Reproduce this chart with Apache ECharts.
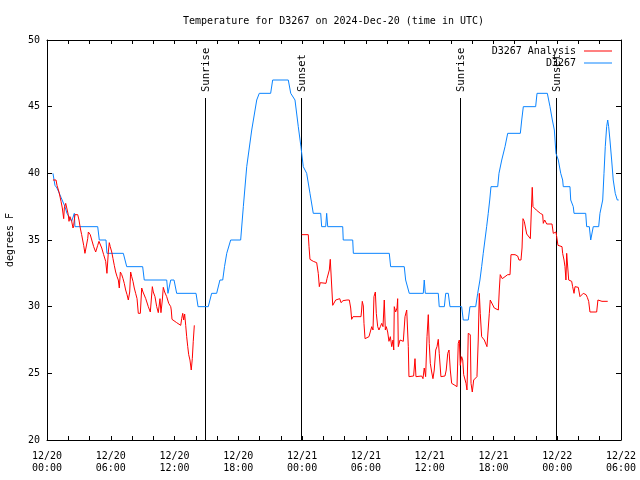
<!DOCTYPE html>
<html>
<head>
<meta charset="utf-8">
<script src="https://cdn.jsdelivr.net/npm/echarts@6/dist/echarts.min.js"></script>
<style>html,body{margin:0;padding:0;background:#fff;}#c{width:640px;height:480px;}</style>
</head>
<body>
<div id="c"></div>
<script>
// Hours since 2024-12-20 00:00 UTC
const obsHours = [0.56,0.75,0.94,1.32,1.69,1.88,2.32,2.50,2.57,2.63,4.77,4.92,5.55,5.64,7.18,7.50,9.00,9.15,11.26,11.38,11.64,11.95,12.20,14.02,14.21,15.17,15.49,15.96,16.27,16.53,16.70,16.91,17.28,18.22,18.47,18.79,19.26,19.73,19.97,21.04,21.23,22.70,22.93,23.33,23.64,23.89,24.11,24.43,24.74,25.05,25.75,25.84,26.22,26.31,26.41,27.82,27.87,28.76,28.82,32.20,32.33,33.61,33.74,34.08,35.40,35.49,35.59,36.81,36.90,37.38,37.51,37.75,37.91,39.01,39.16,39.63,39.79,40.33,40.52,40.73,40.89,41.04,41.20,41.36,41.51,41.65,41.77,42.40,42.52,42.78,43.09,43.34,44.53,44.66,44.81,45.97,46.10,47.07,47.32,47.54,47.73,47.88,48.10,48.33,48.51,48.57,49.20,49.27,49.51,49.58,50.68,50.77,51.02,51.15,51.33,51.39,51.90,52.02,52.28,52.40,52.52,52.65,52.75,52.84,52.96,53.12,53.27,53.46,53.65,53.78];
const obsTemps = [40.0,39.1,38.9,38.2,37.5,37.0,36.4,36.4,37.0,36.0,36.0,35.0,35.0,34.0,34.0,33.0,33.0,32.0,32.0,31.0,32.0,32.0,31.0,31.0,30.0,30.0,31.0,31.0,32.0,32.0,33.0,34.0,35.0,35.0,37.5,40.5,43.25,45.5,46.0,46.0,47.0,47.0,46.0,45.5,43.5,42.0,40.5,40.0,38.5,37.0,37.0,36.0,36.0,37.0,36.0,36.0,35.0,35.0,34.0,34.0,33.0,33.0,32.0,31.0,31.0,32.0,31.0,31.0,30.0,30.0,31.0,31.0,30.0,30.0,29.0,29.0,30.0,30.0,31.0,32.0,33.0,34.0,35.0,36.0,37.0,38.0,39.0,39.0,40.0,41.0,42.0,43.0,43.0,44.0,45.0,45.0,46.0,46.0,45.0,44.0,43.25,41.5,41.0,40.0,39.5,39.0,39.0,38.0,37.5,37.0,37.0,36.0,36.0,35.0,35.0,36.0,36.0,37.0,38.0,40.0,42.0,43.5,44.0,43.5,42.5,41.0,39.5,38.5,38.0,38.0];

const anaHours = [0.56,0.85,0.94,1.13,1.32,1.44,1.57,1.63,1.76,1.88,2.00,2.07,2.16,2.32,2.45,2.51,2.63,2.89,3.01,3.13,3.26,3.45,3.57,3.70,3.83,3.89,4.07,4.21,4.39,4.58,4.68,4.77,4.89,5.01,5.15,5.33,5.52,5.64,5.77,5.86,5.95,6.09,6.21,6.33,6.46,6.59,6.71,6.80,6.90,7.03,7.15,7.27,7.40,7.53,7.65,7.78,7.87,7.97,8.09,8.21,8.34,8.47,8.59,8.78,8.91,9.03,9.29,9.53,9.72,9.78,9.91,10.00,10.16,10.32,10.47,10.63,10.72,10.85,10.94,11.07,11.26,11.45,11.64,11.69,11.76,12.20,12.58,12.67,12.77,12.86,12.95,13.05,13.14,13.24,13.33,13.45,13.57,13.67,13.76,13.86,
  19.00,
  23.96,24.58,24.65,24.74,25.05,25.37,25.52,25.62,25.71,26.25,26.34,26.46,26.56,26.65,26.78,26.88,27.03,27.16,27.54,27.66,27.85,28.03,28.22,28.44,28.57,28.66,28.79,29.54,29.60,29.66,29.76,29.82,29.92,30.29,30.41,30.55,30.67,30.76,30.89,30.98,31.11,31.23,31.36,31.49,31.61,31.73,31.83,31.92,32.05,32.17,32.30,32.43,32.55,32.62,32.67,32.80,32.93,32.99,33.05,33.21,33.52,33.68,33.84,33.99,34.05,34.49,34.62,34.71,35.25,35.37,35.49,35.62,35.75,35.87,35.96,36.06,36.19,36.31,36.43,36.57,36.69,36.81,36.90,37.06,37.44,37.56,37.70,37.82,37.94,38.07,38.38,38.57,38.69,38.79,38.88,39.01,39.11,39.20,39.32,39.42,39.51,39.58,39.63,39.82,39.89,40.01,40.14,40.45,40.57,40.67,40.76,40.89,41.14,41.39,41.51,41.61,41.70,42.08,42.46,42.55,42.64,42.83,43.34,43.56,43.65,44.03,44.28,44.40,44.59,44.69,44.78,44.90,45.03,45.13,45.47,45.56,45.65,45.72,46.03,46.41,46.63,46.69,46.82,47.01,47.51,47.63,47.76,47.88,47.95,48.07,48.45,48.51,48.64,48.73,48.82,48.89,49.01,49.08,49.36,49.45,49.58,49.67,49.83,49.98,50.14,50.45,50.71,50.83,50.96,51.08,51.71,51.83,51.96,52.21,52.75];
const anaTemps = [39.5,39.5,39.1,38.6,37.9,37.4,36.6,37.4,37.75,37.75,36.9,36.4,36.75,36.4,35.9,36.1,36.9,36.9,36.5,35.9,35.4,34.6,34.0,34.0,35.1,35.6,35.4,35.0,34.5,34.1,34.1,34.6,34.9,34.9,34.4,33.9,33.4,32.5,34.1,34.8,34.5,34.1,33.6,33.1,32.6,32.25,32.0,31.4,32.6,32.4,32.1,31.75,31.25,30.9,30.5,31.1,32.6,32.25,31.9,31.4,31.0,30.6,29.5,29.5,31.4,31.1,30.6,30.0,29.6,29.5,31.5,31.1,30.75,30.0,29.55,30.6,29.55,30.5,31.45,31.1,30.75,30.25,30.0,29.75,29.05,28.8,28.6,29.1,29.5,29.0,29.45,28.6,27.75,27.0,26.4,26.0,25.25,26.1,27.4,28.6,
  null,
  35.4,35.4,34.5,33.55,33.4,33.3,32.5,31.5,31.8,31.75,32.1,32.25,32.75,33.55,33.4,30.1,30.1,30.5,30.6,30.3,30.45,30.6,30.5,30.5,29.9,29.05,29.25,29.25,29.75,30.4,30.05,28.75,27.6,27.75,28.1,28.5,28.25,30.75,31.1,29.5,28.5,28.25,28.5,28.75,28.5,30.5,28.25,28.5,28.1,27.4,27.75,27.0,27.5,26.75,30.0,29.6,29.9,30.6,27.0,27.5,27.4,29.25,29.75,27.0,24.75,24.8,26.1,24.75,24.8,24.6,25.4,24.75,27.75,29.4,27.25,25.75,25.1,24.6,25.25,26.75,27.0,27.55,26.5,24.75,24.8,25.25,26.5,26.75,25.25,24.25,24.1,24.0,27.25,27.5,25.6,26.25,26.0,24.9,25.0,24.25,23.75,26.0,28.0,27.9,24.25,23.6,24.5,24.75,27.5,31.0,29.5,27.75,27.5,27.0,26.9,29.5,30.5,29.9,29.75,31.25,32.4,32.1,32.4,32.4,33.9,33.9,33.8,33.5,33.5,34.4,36.6,36.4,36.25,35.45,35.1,37.1,38.95,37.5,37.25,37.0,36.9,36.25,36.5,36.2,36.2,35.5,35.4,35.6,35.25,34.6,34.5,34.0,33.5,33.0,32.0,34.0,34.0,32.0,31.9,31.5,31.0,31.5,31.6,31.45,30.75,31.0,30.9,30.7,30.4,29.6,29.6,30.5,30.6,30.4,30.4];

const sunHours = [14.86, 23.89, 38.85, 47.88];
const sunLabels = ['Sunrise', 'Sunset', 'Sunrise', 'Sunset'];
const sunLineTop = 45.65;

const xTickDates = ['12/20','12/20','12/20','12/20','12/21','12/21','12/21','12/21','12/22','12/22'];
const xTickTimes = ['00:00','06:00','12:00','18:00','00:00','06:00','12:00','18:00','00:00','06:00'];

const FONT = '"DejaVu Sans Mono", "Liberation Mono", monospace';

const obsData = obsHours.map((h, i) => [h, obsTemps[i]]);
const anaData = anaHours.map((h, i) => [h, anaTemps[i] === null ? '-' : anaTemps[i]]);
const sunData = sunHours.map(h => [h, 20]);

const chart = echarts.init(document.getElementById('c'), null, {renderer: 'canvas'});
const axisCommon = {
  type: 'value', min: 0, max: 54, interval: 2,
  axisLine: {show: true, onZero: false, lineStyle: {color: '#000', width: 1}},
  axisTick: {show: true, inside: true, length: 4, lineStyle: {color: '#000'}},
  splitLine: {show: false}
};
const legendCommon = {
  right: 28, itemWidth: 28, itemHeight: 1, align: 'right', itemGap: 0, padding: 0, icon: 'rect',
  textStyle: {fontFamily: FONT, fontSize: 10, color: '#000', padding: [0, 3, 0, 0]}
};
chart.setOption({
  animation: false,
  backgroundColor: '#fff',
  title: {
    text: 'Temperature for D3267 on 2024-Dec-20 (time in UTC)',
    left: 178, top: 11,
    textStyle: {fontFamily: FONT, fontSize: 10, fontWeight: 'normal', color: '#000'}
  },
  legend: [
    Object.assign({data: ['D3267 Analysis'], top: 46}, legendCommon),
    Object.assign({data: ['D3267'], top: 58}, legendCommon)
  ],
  grid: {left: 47, right: 19, top: 40, bottom: 40, containLabel: false, outerBoundsMode: 'none'},
  xAxis: [
    Object.assign({}, axisCommon, {
      position: 'bottom',
      axisLabel: {
        show: true, margin: 10, fontFamily: FONT, fontSize: 10, color: '#000', lineHeight: 12,
        showMinLabel: true, showMaxLabel: true,
        formatter: v => {
          if (Math.round(v) % 6 !== 0) return '';
          const k = Math.round(v) / 6;
          return xTickDates[k] + '\n' + xTickTimes[k];
        }
      }
    }),
    Object.assign({}, axisCommon, {position: 'top', axisLabel: {show: false}})
  ],
  yAxis: [
    {
      type: 'value', min: 20, max: 50, interval: 5, position: 'left',
      name: 'degrees F', nameLocation: 'middle', nameGap: 32, nameRotate: 90,
      nameTextStyle: {fontFamily: FONT, fontSize: 10, color: '#000'},
      axisLine: {show: true, onZero: false, lineStyle: {color: '#000'}},
      axisTick: {show: true, inside: true, length: 5, lineStyle: {color: '#000'}},
      axisLabel: {margin: 7, fontFamily: FONT, fontSize: 10, color: '#000'},
      splitLine: {show: false}
    },
    {
      type: 'value', min: 20, max: 50, interval: 5, position: 'right',
      axisLine: {show: true, onZero: false, lineStyle: {color: '#000'}},
      axisTick: {show: true, inside: true, length: 5, lineStyle: {color: '#000'}},
      axisLabel: {show: false},
      splitLine: {show: false}
    }
  ],
  series: [
    {
      name: 'sun', type: 'custom', xAxisIndex: 0, yAxisIndex: 0, data: sunData, clip: false, z: 1,
      silent: true,
      renderItem: (params, api) => {
        const h = api.value(0);
        const p0 = api.coord([h, 20]);
        const p1 = api.coord([h, sunLineTop]);
        const x = Math.round(p0[0]) + 0.5;
        return {
          type: 'group',
          children: [
            {type: 'line', shape: {x1: x, y1: p0[1], x2: x, y2: p1[1]}, style: {stroke: '#000', lineWidth: 1}},
            {type: 'text', x: x + 1, y: p1[1] - 6, rotation: Math.PI / 2,
             style: {text: sunLabels[params.dataIndex], x: 0, y: 0, align: 'left', verticalAlign: 'middle',
                     font: '10.5px ' + FONT, fill: '#000'}}
          ]
        };
      }
    },
    {
      name: 'D3267 Analysis', type: 'line', data: anaData, symbol: 'none', showSymbol: false,
      connectNulls: false, lineStyle: {color: '#ff0000', width: 1}, itemStyle: {color: '#ff0000'}, z: 3
    },
    {
      name: 'D3267', type: 'line', data: obsData, symbol: 'none', showSymbol: false,
      lineStyle: {color: '#0a84ff', width: 1}, itemStyle: {color: '#0a84ff'}, z: 2
    }
  ]
});
</script>
</body>
</html>
